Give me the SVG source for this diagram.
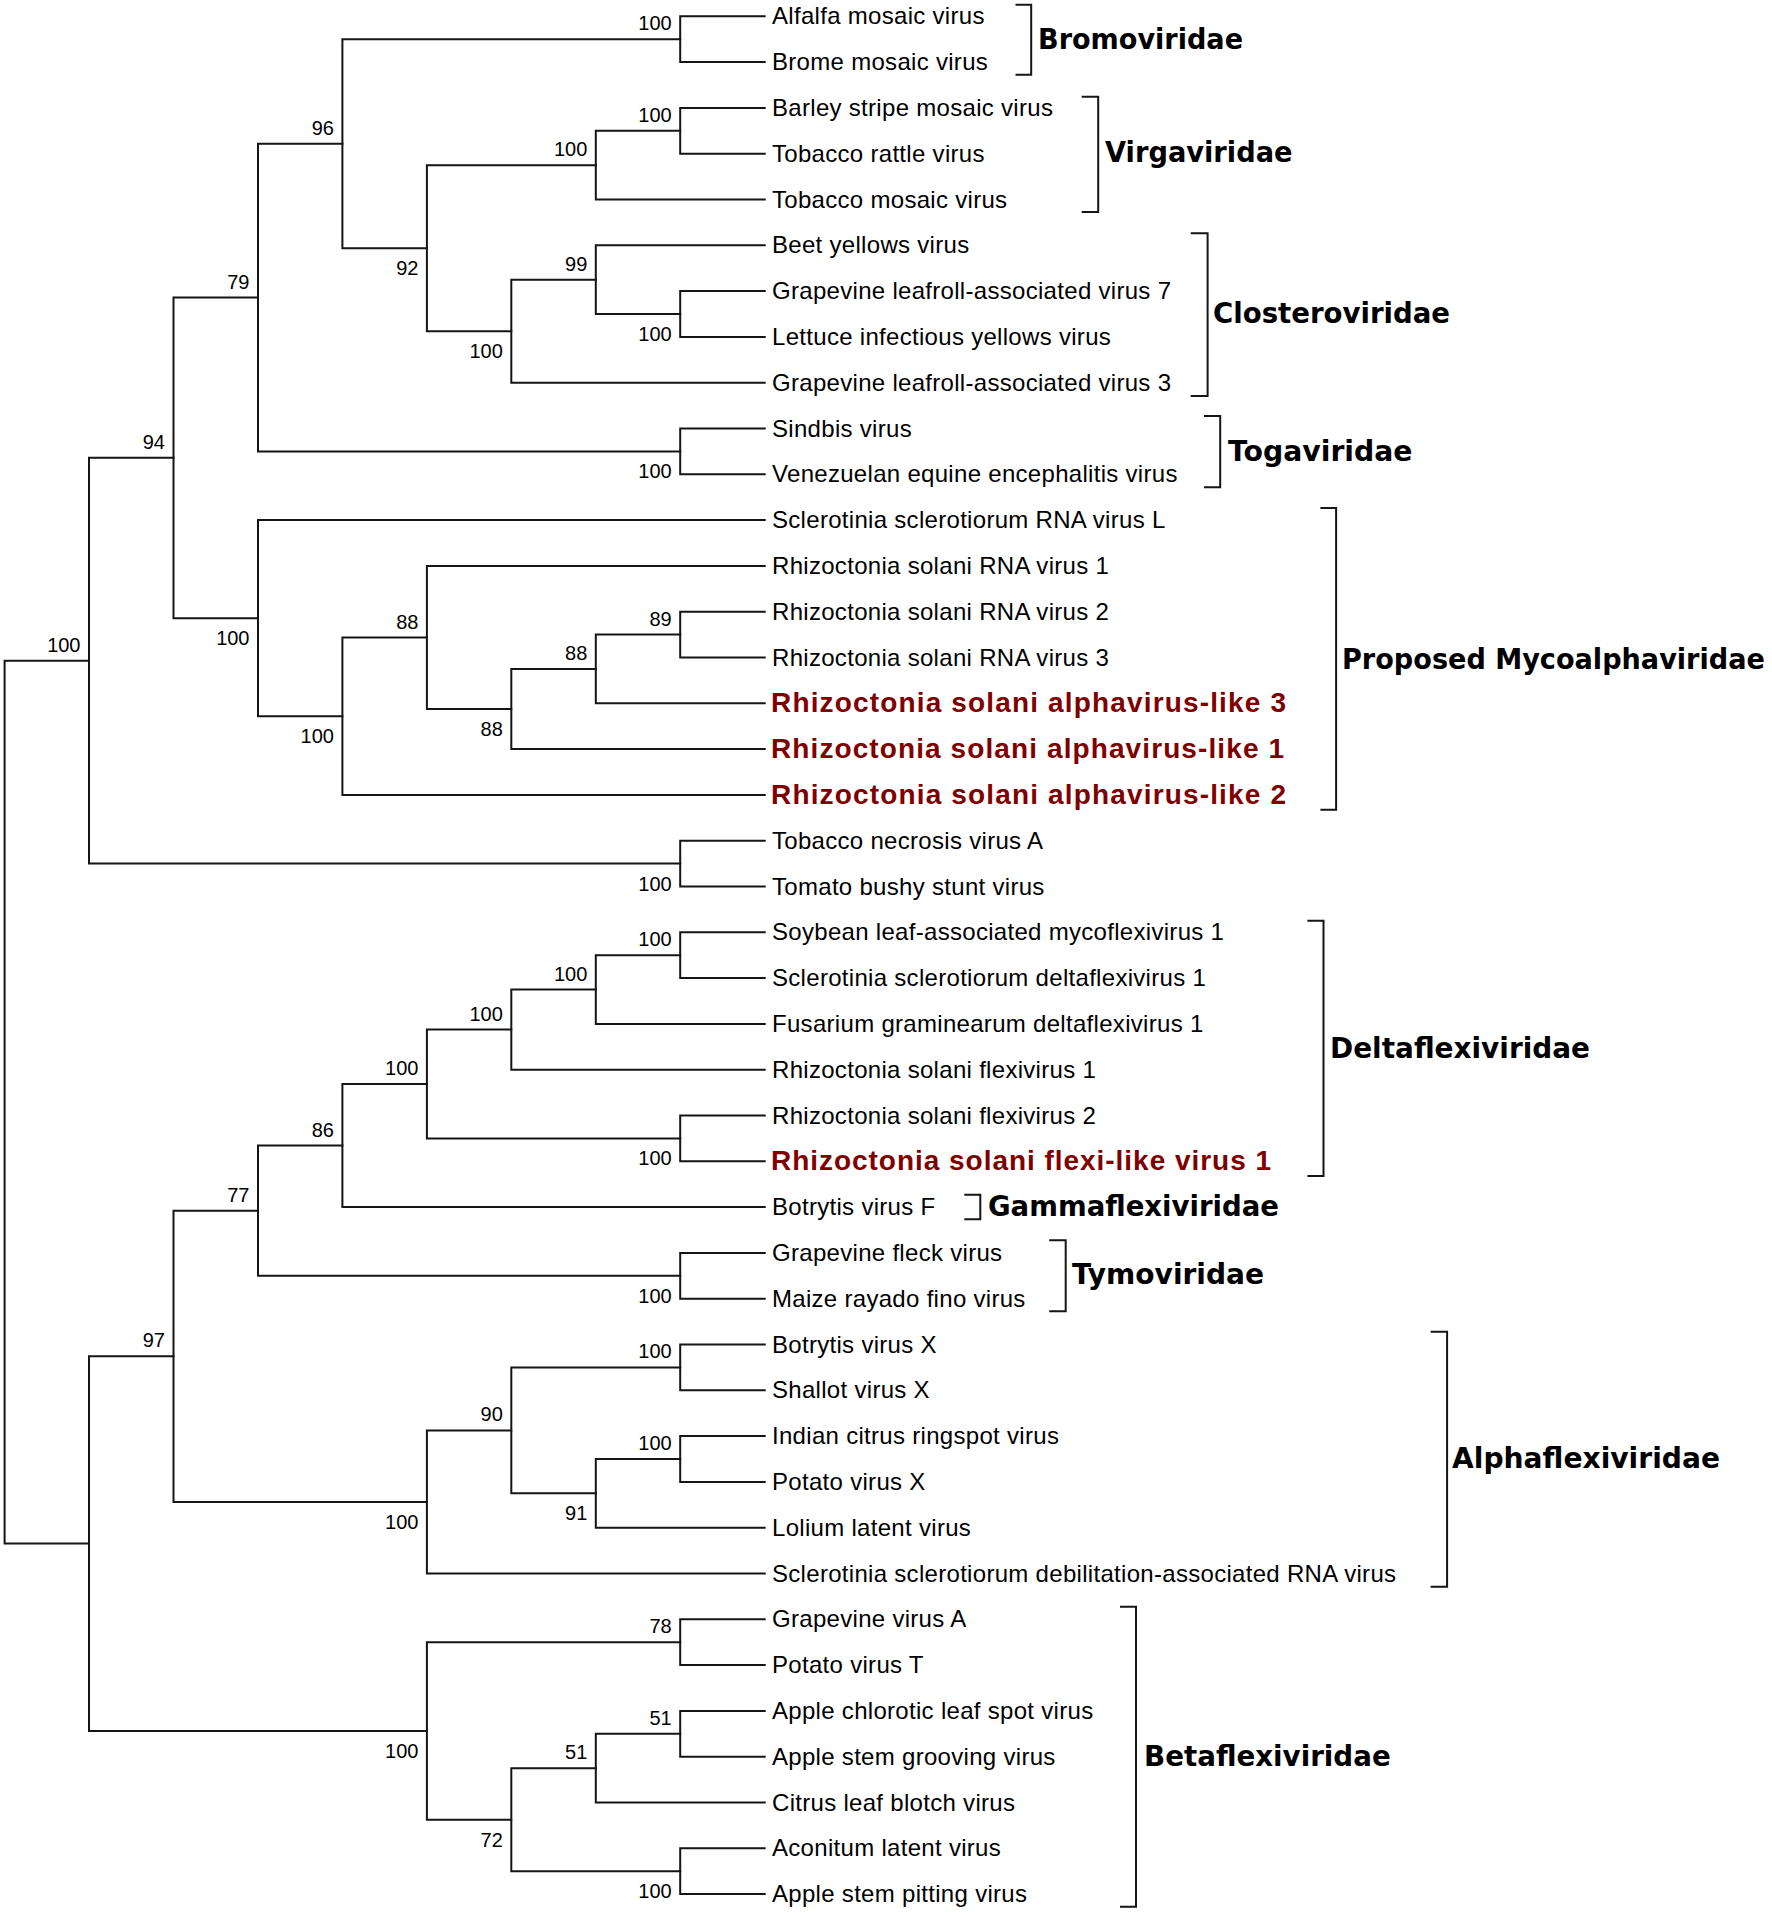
<svg xmlns="http://www.w3.org/2000/svg" width="1772" height="1913" viewBox="0 0 1772 1913">
<style>
.br{fill:none;stroke:#151515;stroke-width:2;stroke-linecap:square}
.bk{fill:none;stroke:#151515;stroke-width:2}
.lf{font-family:"Liberation Sans",Arial,sans-serif;font-size:24px;letter-spacing:0.3px;fill:#000}
.rd{font-family:"Liberation Sans",Arial,sans-serif;font-size:28px;font-weight:bold;letter-spacing:0;fill:#800000}
.bs{font-family:"Liberation Sans",Arial,sans-serif;font-size:20px;fill:#000;text-anchor:end}
.fm{font-family:"DejaVu Sans",Verdana,sans-serif;font-size:29px;font-weight:bold;fill:#000}
</style>
<rect width="1772" height="1913" fill="#fff"/>
<g id="connectors" class="br">
<path d="M764.7 16.3H680.2V62.1H764.7"/>
<path d="M764.7 107.9H680.2V153.7H764.7"/>
<path d="M680.2 130.8H595.8V199.5H764.7"/>
<path d="M764.7 291.1H680.2V336.9H764.7"/>
<path d="M764.7 245.3H595.8V314H680.2"/>
<path d="M595.8 279.7H511.3V382.7H764.7"/>
<path d="M595.8 165.2H426.9V331.2H511.3"/>
<path d="M680.2 39.2H342.4V248.2H426.9"/>
<path d="M764.7 428.5H680.2V474.3H764.7"/>
<path d="M342.4 143.7H258V451.4H680.2"/>
<path d="M764.7 611.7H680.2V657.5H764.7"/>
<path d="M680.2 634.6H595.8V703.3H764.7"/>
<path d="M595.8 669H511.3V749.1H764.7"/>
<path d="M764.7 565.9H426.9V709.05H511.3"/>
<path d="M426.9 637.5H342.4V794.9H764.7"/>
<path d="M764.7 520.1H258V716.2H342.4"/>
<path d="M258 297.55H173.5V618.15H258"/>
<path d="M764.7 840.7H680.2V886.5H764.7"/>
<path d="M173.5 457.85H89V863.6H680.2"/>
<path d="M764.7 932.3H680.2V978.1H764.7"/>
<path d="M680.2 955.2H595.8V1023.9H764.7"/>
<path d="M595.8 989.55H511.3V1069.7H764.7"/>
<path d="M764.7 1115.5H680.2V1161.3H764.7"/>
<path d="M511.3 1029.6H426.9V1138.4H680.2"/>
<path d="M426.9 1084H342.4V1207.1H764.7"/>
<path d="M764.7 1252.9H680.2V1298.7H764.7"/>
<path d="M342.4 1145.55H258V1275.8H680.2"/>
<path d="M764.7 1344.5H680.2V1390.3H764.7"/>
<path d="M764.7 1436.1H680.2V1481.9H764.7"/>
<path d="M680.2 1459H595.8V1527.7H764.7"/>
<path d="M680.2 1367.4H511.3V1493.35H595.8"/>
<path d="M511.3 1430.4H426.9V1573.5H764.7"/>
<path d="M258 1210.7H173.5V1501.95H426.9"/>
<path d="M764.7 1619.3H680.2V1665.1H764.7"/>
<path d="M764.7 1710.9H680.2V1756.7H764.7"/>
<path d="M680.2 1733.8H595.8V1802.5H764.7"/>
<path d="M764.7 1848.3H680.2V1894.1H764.7"/>
<path d="M595.8 1768.15H511.3V1871.2H680.2"/>
<path d="M680.2 1642.2H426.9V1819.7H511.3"/>
<path d="M173.5 1356.3H89V1730.95H426.9"/>
<path d="M89 660.7H4.6V1543.6H89"/>
</g>
<g id="support-values" class="bs">
<text x="671.7" y="30.2">100</text>
<text x="671.7" y="121.8">100</text>
<text x="587.3" y="156.2">100</text>
<text x="587.3" y="270.7">99</text>
<text x="333.9" y="134.7">96</text>
<text x="249.5" y="288.55">79</text>
<text x="671.7" y="625.6">89</text>
<text x="587.3" y="660">88</text>
<text x="418.4" y="628.5">88</text>
<text x="165" y="448.85">94</text>
<text x="80.5" y="651.7">100</text>
<text x="671.7" y="946.2">100</text>
<text x="587.3" y="980.55">100</text>
<text x="502.8" y="1020.6">100</text>
<text x="418.4" y="1075">100</text>
<text x="333.9" y="1136.55">86</text>
<text x="249.5" y="1201.7">77</text>
<text x="671.7" y="1358.4">100</text>
<text x="671.7" y="1450">100</text>
<text x="502.8" y="1421.4">90</text>
<text x="165" y="1347.3">97</text>
<text x="671.7" y="1633.2">78</text>
<text x="671.7" y="1724.8">51</text>
<text x="587.3" y="1759.15">51</text>
<text x="671.7" y="341">100</text>
<text x="502.8" y="358.2">100</text>
<text x="418.4" y="275.2">92</text>
<text x="671.7" y="478.4">100</text>
<text x="502.8" y="736">88</text>
<text x="333.9" y="743.2">100</text>
<text x="249.5" y="645.15">100</text>
<text x="671.7" y="890.6">100</text>
<text x="671.7" y="1165.4">100</text>
<text x="671.7" y="1302.8">100</text>
<text x="587.3" y="1520.35">91</text>
<text x="418.4" y="1528.95">100</text>
<text x="671.7" y="1898.2">100</text>
<text x="502.8" y="1846.7">72</text>
<text x="418.4" y="1757.95">100</text>
</g>
<g id="leaves" class="lf">
<g id="leaf-0"><text x="772" y="24.3">Alfalfa mosaic virus</text></g>
<g id="leaf-1"><text x="772" y="70.1">Brome mosaic virus</text></g>
<g id="leaf-2"><text x="772" y="115.9">Barley stripe mosaic virus</text></g>
<g id="leaf-3"><text x="772" y="161.7">Tobacco rattle virus</text></g>
<g id="leaf-4"><text x="772" y="207.5">Tobacco mosaic virus</text></g>
<g id="leaf-5"><text x="772" y="253.3">Beet yellows virus</text></g>
<g id="leaf-6"><text x="772" y="299.1">Grapevine leafroll-associated virus 7</text></g>
<g id="leaf-7"><text x="772" y="344.9">Lettuce infectious yellows virus</text></g>
<g id="leaf-8"><text x="772" y="390.7">Grapevine leafroll-associated virus 3</text></g>
<g id="leaf-9"><text x="772" y="436.5">Sindbis virus</text></g>
<g id="leaf-10"><text x="772" y="482.3">Venezuelan equine encephalitis virus</text></g>
<g id="leaf-11"><text x="772" y="528.1">Sclerotinia sclerotiorum RNA virus L</text></g>
<g id="leaf-12"><text x="772" y="573.9">Rhizoctonia solani RNA virus 1</text></g>
<g id="leaf-13"><text x="772" y="619.7">Rhizoctonia solani RNA virus 2</text></g>
<g id="leaf-14"><text x="772" y="665.5">Rhizoctonia solani RNA virus 3</text></g>
<g id="leaf-15"><text class="rd" x="771" y="712.3" textLength="515">Rhizoctonia solani alphavirus-like 3</text></g>
<g id="leaf-16"><text class="rd" x="771" y="758.1" textLength="513">Rhizoctonia solani alphavirus-like 1</text></g>
<g id="leaf-17"><text class="rd" x="771" y="803.9" textLength="515">Rhizoctonia solani alphavirus-like 2</text></g>
<g id="leaf-18"><text x="772" y="848.7">Tobacco necrosis virus A</text></g>
<g id="leaf-19"><text x="772" y="894.5">Tomato bushy stunt virus</text></g>
<g id="leaf-20"><text x="772" y="940.3">Soybean leaf-associated mycoflexivirus 1</text></g>
<g id="leaf-21"><text x="772" y="986.1">Sclerotinia sclerotiorum deltaflexivirus 1</text></g>
<g id="leaf-22"><text x="772" y="1031.9">Fusarium graminearum deltaflexivirus 1</text></g>
<g id="leaf-23"><text x="772" y="1077.7">Rhizoctonia solani flexivirus 1</text></g>
<g id="leaf-24"><text x="772" y="1123.5">Rhizoctonia solani flexivirus 2</text></g>
<g id="leaf-25"><text class="rd" x="771" y="1170.3" textLength="500">Rhizoctonia solani flexi-like virus 1</text></g>
<g id="leaf-26"><text x="772" y="1215.1">Botrytis virus F</text></g>
<g id="leaf-27"><text x="772" y="1260.9">Grapevine fleck virus</text></g>
<g id="leaf-28"><text x="772" y="1306.7">Maize rayado fino virus</text></g>
<g id="leaf-29"><text x="772" y="1352.5">Botrytis virus X</text></g>
<g id="leaf-30"><text x="772" y="1398.3">Shallot virus X</text></g>
<g id="leaf-31"><text x="772" y="1444.1">Indian citrus ringspot virus</text></g>
<g id="leaf-32"><text x="772" y="1489.9">Potato virus X</text></g>
<g id="leaf-33"><text x="772" y="1535.7">Lolium latent virus</text></g>
<g id="leaf-34"><text x="772" y="1581.5">Sclerotinia sclerotiorum debilitation-associated RNA virus</text></g>
<g id="leaf-35"><text x="772" y="1627.3">Grapevine virus A</text></g>
<g id="leaf-36"><text x="772" y="1673.1">Potato virus T</text></g>
<g id="leaf-37"><text x="772" y="1718.9">Apple chlorotic leaf spot virus</text></g>
<g id="leaf-38"><text x="772" y="1764.7">Apple stem grooving virus</text></g>
<g id="leaf-39"><text x="772" y="1810.5">Citrus leaf blotch virus</text></g>
<g id="leaf-40"><text x="772" y="1856.3">Aconitum latent virus</text></g>
<g id="leaf-41"><text x="772" y="1902.1">Apple stem pitting virus</text></g>
</g>
<g id="families">
<g id="fam-bromoviridae"><path class="bk" d="M1015.5 4.7H1031.2V74.7H1015.5"/><text class="fm" x="1038" y="49.3" textLength="205" lengthAdjust="spacingAndGlyphs">Bromoviridae</text></g>
<g id="fam-virgaviridae"><path class="bk" d="M1081.7 96.7H1098.2V212H1081.7"/><text class="fm" x="1105" y="162.3" textLength="187.5" lengthAdjust="spacingAndGlyphs">Virgaviridae</text></g>
<g id="fam-closteroviridae"><path class="bk" d="M1190.7 233.3H1207.6V396H1190.7"/><text class="fm" x="1213" y="322.7" textLength="237" lengthAdjust="spacingAndGlyphs">Closteroviridae</text></g>
<g id="fam-togaviridae"><path class="bk" d="M1204 416H1220.2V487.3H1204"/><text class="fm" x="1228" y="461" textLength="184.5" lengthAdjust="spacingAndGlyphs">Togaviridae</text></g>
<g id="fam-mycoalphaviridae"><path class="bk" d="M1320.4 508H1336.1V809.7H1320.4"/><text class="fm" transform="translate(1342 668.7) scale(0.935 1)" x="0" y="0">Proposed Mycoalphaviridae</text></g>
<g id="fam-deltaflexiviridae"><path class="bk" d="M1307.4 920.7H1323.5V1176H1307.4"/><text class="fm" x="1330" y="1057.7" textLength="260" lengthAdjust="spacingAndGlyphs">Deltaflexiviridae</text></g>
<g id="fam-gammaflexiviridae"><path class="bk" d="M964.3 1194.7H980.3V1219.3H964.3"/><text class="fm" x="988" y="1216" textLength="291" lengthAdjust="spacingAndGlyphs">Gammaflexiviridae</text></g>
<g id="fam-tymoviridae"><path class="bk" d="M1049.2 1240.3H1065.7V1311.3H1049.2"/><text class="fm" x="1072" y="1284.3" textLength="192" lengthAdjust="spacingAndGlyphs">Tymoviridae</text></g>
<g id="fam-alphaflexiviridae"><path class="bk" d="M1430.6 1331.7H1447.1V1586.7H1430.6"/><text class="fm" x="1452" y="1468.3" textLength="268" lengthAdjust="spacingAndGlyphs">Alphaflexiviridae</text></g>
<g id="fam-betaflexiviridae"><path class="bk" d="M1120 1606.7H1136V1906.7H1120"/><text class="fm" x="1144" y="1765.7" textLength="246.7" lengthAdjust="spacingAndGlyphs">Betaflexiviridae</text></g>
</g>
</svg>
